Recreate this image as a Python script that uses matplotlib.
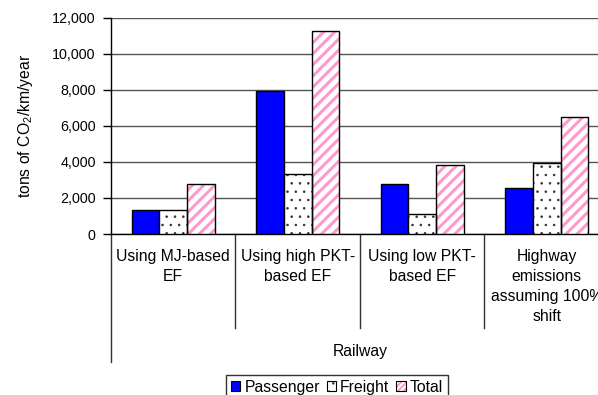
import matplotlib
matplotlib.use("Agg")
import matplotlib.pyplot as plt
from matplotlib.patches import Patch, Rectangle
from matplotlib.legend_handler import HandlerBase
from matplotlib.ticker import FuncFormatter
import numpy as np

plt.rcParams['font.family'] = ['Liberation Sans', 'DejaVu Sans']
plt.rcParams['mathtext.fontset'] = 'custom'
plt.rcParams['mathtext.rm'] = 'Liberation Sans'
plt.rcParams['mathtext.it'] = 'Liberation Sans'

categories = ["Using MJ-based\nEF", "Using high PKT-\nbased EF", "Using low PKT-\nbased EF",
              "Highway\nemissions\nassuming 100%\nshift"]
group_label = "Railway"
series_names = ["Passenger", "Freight", "Total"]
passenger = [1330, 7920, 2750, 2530]
freight = [1330, 3340, 1120, 3930]
total = [2750, 11250, 3800, 6480]
yticks = [0, 2000, 4000, 6000, 8000, 10000, 12000]

FS = 11.3
TFS = 10.3
fig = plt.figure(figsize=(5.98, 3.95), dpi=100)
ax = fig.add_axes([111/598, 1-234/395, (609-111)/598, (234-17.5)/395])

x = np.arange(len(categories))
w = 0.222
blue = '#0000FF'
pink = '#FF99CC'

ax.bar(x - w, passenger, w, color=blue, edgecolor='black', linewidth=1, zorder=3)
with plt.rc_context({'hatch.linewidth': 0.6}):
    ax.bar(x, freight, w, color='white', edgecolor='#333333', hatch='..', linewidth=0, zorder=3)
ax.bar(x, freight, w, fill=False, edgecolor='black', linewidth=1, zorder=4)
with plt.rc_context({'hatch.linewidth': 2.2}):
    ax.bar(x + w, total, w, color='white', edgecolor=pink, hatch='///', linewidth=0, zorder=3)
ax.bar(x + w, total, w, fill=False, edgecolor='black', linewidth=1, zorder=4)

ax.set_xlim(-0.5, len(categories) - 0.5)
ax.set_ylim(0, 12000)
ax.set_yticks(yticks)
ax.yaxis.set_major_formatter(FuncFormatter(lambda v, p: f"{int(v):,}"))
ax.tick_params(axis='y', labelsize=TFS, length=6, width=1, direction='out', pad=5)
ax.set_xticks([])
ax.yaxis.grid(True, color='#555555', linewidth=1, zorder=0)
ax.set_axisbelow(True)
for s in ['top', 'right']:
    ax.spines[s].set_visible(False)
ax.spines['left'].set_linewidth(1)
ax.spines['bottom'].set_linewidth(1)

ax.set_ylabel("tons of CO$_2$/km/year", fontsize=FS)
ax.yaxis.set_label_coords(-0.152, 0.5)

# category separators and labels
trans = ax.get_xaxis_transform()
axh = (234 - 17.5)
def yfrac(py):
    return -(py - 234) / axh
for b in np.arange(0.5, len(categories) - 0.5, 1.0):
    ax.plot([b, b], [0, yfrac(328)], transform=trans, color='#333333', lw=1, clip_on=False)
ax.plot([-0.5, -0.5], [0, yfrac(362)], transform=trans, color='#333333', lw=1, clip_on=False)
for xi, lab in zip(x, categories):
    ax.text(xi, yfrac(249), lab, transform=trans, ha='center', va='top', fontsize=FS,
            linespacing=1.42)
ax.text(1.5, yfrac(351), group_label, transform=trans, ha='center', va='center', fontsize=FS)


class HatchBoxHandler(HandlerBase):
    def __init__(self, hatch_color, hatch, hlw, **kw):
        super().__init__(**kw)
        self.hc = hatch_color
        self.hatch = hatch
        self.hlw = hlw

    def create_artists(self, legend, orig_handle, xdescent, ydescent, width, height,
                       fontsize, trans):
        with plt.rc_context({'hatch.linewidth': self.hlw}):
            r1 = Rectangle((-xdescent, -ydescent), width, height, facecolor='white',
                           edgecolor=self.hc, hatch=self.hatch, linewidth=0, transform=trans)
        r2 = Rectangle((-xdescent, -ydescent), width, height, fill=False,
                       edgecolor='black', linewidth=0.8, transform=trans)
        return [r1, r2]


h1 = Patch(facecolor=blue, edgecolor='black', linewidth=0.8)
h2 = Patch(facecolor='white', edgecolor='black')
h3 = Patch(facecolor='white', edgecolor=pink)
leg = fig.legend([h1, h2, h3], series_names, loc='upper center',
                 bbox_to_anchor=(337/598, 1 - 375/395), ncol=3, fontsize=FS,
                 frameon=True, fancybox=False, edgecolor='black', handlelength=0.6,
                 handleheight=0.6, handletextpad=0.25, columnspacing=0.45,
                 borderpad=0.3, borderaxespad=0,
                 handler_map={h2: HatchBoxHandler('#333333', '..', 0.6),
                              h3: HatchBoxHandler(pink, '//////', 1.4)})
leg.get_frame().set_linewidth(1)

fig.savefig("out.png", dpi=100)
